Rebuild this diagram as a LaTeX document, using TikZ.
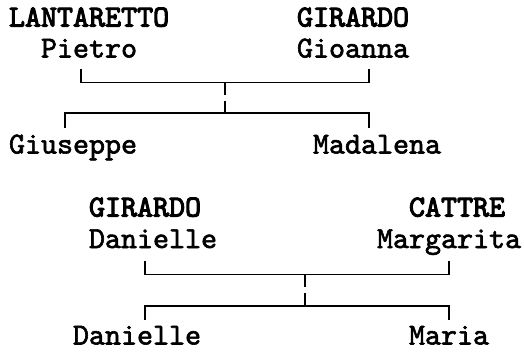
\documentclass[tikz,border=0pt]{standalone}
\usepackage{fontspec}
\newfontfamily\givenfont[Extension=.otf,FakeBold=2]{lmmono10-regular}
\newfontfamily\surfont[Extension=.otf,FakeBold=3.4]{lmmono10-regular}
\begin{document}
\begin{tikzpicture}[x=1pt,y=-1pt,
  person/.style={anchor=base west,inner sep=0pt,outer sep=0pt,
    font=\givenfont\fontsize{30.5}{30.5}\selectfont},
  family/.style={person,font=\surfont\fontsize{30.5}{30.5}\selectfont},
  link/.style={line width=1.7pt,black},
  stem/.style={link,dash pattern=on 12.3pt off 5.7pt on 20pt}]
\useasboundingbox (0,0) rectangle (524,353);

% first family
\node[family] (lantaretto) at (9,26.5) {LANTARETTO};
\node[person] (pietro)     at (41,57.5) {Pietro};
\node[family] (girardoA)   at (297,26.5) {GIRARDO};
\node[person] (gioanna)    at (297,57.5) {Gioanna};
\node[person] (giuseppe)   at (9,153.5) {Giuseppe};
\node[person] (madalena)   at (313,153.5) {Madalena};

\coordinate (p1) at (81,68.5);
\coordinate (m1) at (369,68.5);
\coordinate (u1) at (225,82.5);
\coordinate (k1) at (225,113);
\coordinate (c1a) at (65,127.5);
\coordinate (c1b) at (369,127.5);
\draw[link] (p1) |- (u1) -| (m1);
\draw[stem] (u1) -- (k1);
\draw[link] (c1a) |- (k1) -| (c1b);

% second family
\node[family] (girardoB)  at (89,216.5) {GIRARDO};
\node[person] (danielleA) at (89,248) {Danielle};
\node[family] (cattre)    at (409,216.5) {CATTRE};
\node[person] (margarita) at (377,248) {Margarita};
\node[person] (danielleB) at (73,344.5) {Danielle};
\node[person] (maria)     at (409,344.5) {Maria};

\coordinate (p2) at (145,261);
\coordinate (m2) at (449,261);
\coordinate (u2) at (305,274.5);
\coordinate (k2) at (305,306);
\coordinate (c2a) at (145,319.5);
\coordinate (c2b) at (449,319.5);
\draw[link] (p2) |- (u2) -| (m2);
\draw[link,dash pattern=on 12.8pt off 5.5pt on 20pt] (u2) -- (k2);
\draw[link] (c2a) |- (k2) -| (c2b);
\end{tikzpicture}
\end{document}
